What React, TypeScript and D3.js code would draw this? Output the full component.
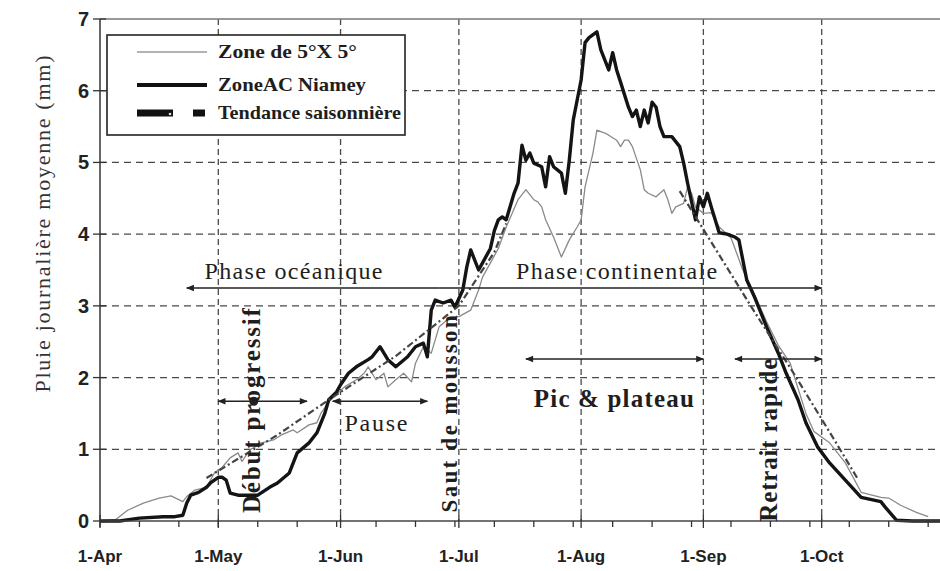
import * as d3 from 'd3';
import { useEffect, useRef } from 'react';

const WIDTH = 940;
const HEIGHT = 571;
const MARGIN = { top: 19, right: 0, bottom: 50, left: 100 };

// day 0 = 1 April
const START = Date.UTC(2001, 3, 1);
const LAST_DAY = 213;
const MINOR_STEP = 10;

const MONTH_LABELS = ['1-Apr', '1-May', '1-Jun', '1-Jul', '1-Aug', '1-Sep', '1-Oct'];
const Y_TICKS = [0, 1, 2, 3, 4, 5, 6, 7];

// [day since 1 April, mm/day]
const ZONE_5X5: [number, number][] = [
  [0, 0], [4, 0.02], [7, 0.15], [11, 0.25], [15, 0.32], [18, 0.35], [21, 0.27], [22, 0.34],
  [24, 0.43], [27, 0.47], [29, 0.67], [31, 0.75], [33, 0.88], [35, 0.95], [36, 0.83], [38, 0.99],
  [41, 1.09], [44, 1.13], [46, 1.2], [49, 1.27], [50, 1.23], [53, 1.34], [55, 1.37], [56, 1.5],
  [58, 1.66], [62, 1.87], [65, 1.97], [67, 2.06], [68, 2.15], [70, 1.97], [72, 2.06], [73, 1.87],
  [75, 1.97], [77, 2.06], [79, 1.94], [80, 2.2], [82, 2.43], [84, 2.34], [86, 2.71], [89, 2.85],
  [91, 2.85], [94, 2.94], [96, 3.22], [97, 3.4], [99, 3.6], [101, 3.8], [103, 4.1], [106, 4.48],
  [108, 4.62], [110, 4.48], [111, 4.45], [112, 4.38], [113, 4.2], [115, 3.96], [117, 3.68],
  [119, 3.92], [121, 4.1], [122, 4.2], [123, 4.66], [125, 5.13], [126, 5.45], [128, 5.41],
  [129, 5.38], [131, 5.31], [132, 5.22], [133, 5.31], [134, 5.31], [135, 5.22], [137, 4.9],
  [138, 4.62], [139, 4.57], [141, 4.52], [143, 4.62], [144, 4.48], [145, 4.29], [146, 4.38],
  [148, 4.43], [149, 4.66], [150, 4.57], [151, 4.38], [153, 4.29], [155, 4.3], [157, 4.1],
  [160, 3.95], [163, 3.5], [166, 3.15], [169, 2.78], [172, 2.45], [175, 2.2], [177, 1.85],
  [179, 1.5], [181, 1.25], [185, 1.09], [189, 0.81], [193, 0.4], [198, 0.33], [200, 0.32],
  [203, 0.22], [207, 0.12], [210, 0.06],
];

const ZONE_AC_NIAMEY: [number, number][] = [
  [0, 0], [5, 0], [10, 0.04], [16, 0.06], [19, 0.06], [21, 0.08], [22, 0.25], [23, 0.36],
  [25, 0.4], [27, 0.47], [28, 0.53], [30, 0.61], [31, 0.61], [32, 0.57], [33, 0.39], [35, 0.36],
  [40, 0.36], [43, 0.47], [45, 0.53], [48, 0.67], [50, 0.95], [53, 1.09], [55, 1.23], [57, 1.5],
  [58, 1.69], [60, 1.8], [61, 1.9], [63, 2.06], [65, 2.15], [68, 2.25], [69, 2.29], [71, 2.43],
  [73, 2.25], [75, 2.15], [78, 2.29], [80, 2.43], [82, 2.48], [83, 2.29], [84, 2.94], [85, 3.08],
  [87, 3.04], [89, 3.08], [90, 2.98], [92, 3.22], [93, 3.54], [94, 3.78], [96, 3.5], [97, 3.6],
  [99, 3.8], [100, 4.05], [101, 4.2], [102, 4.24], [103, 4.2], [105, 4.57], [106, 4.71],
  [107, 5.24], [108, 5.03], [109, 5.13], [110, 4.99], [112, 4.94], [113, 4.66], [114, 5.08],
  [115, 4.94], [117, 4.85], [118, 4.57], [119, 5.03], [120, 5.59], [121, 5.87], [122, 6.15],
  [123, 6.67], [124, 6.74], [126, 6.82], [127, 6.57], [128, 6.43], [129, 6.29], [130, 6.53],
  [131, 6.29], [132, 6.12], [134, 5.77], [135, 5.64], [136, 5.73], [137, 5.5], [138, 5.73],
  [139, 5.55], [140, 5.84], [141, 5.77], [142, 5.5], [143, 5.36], [145, 5.36], [147, 5.22],
  [148, 4.99], [149, 4.71], [151, 4.2], [152, 4.52], [153, 4.38], [154, 4.57], [155, 4.38],
  [156, 4.2], [157, 4.02], [159, 4.0], [161, 3.96], [162, 3.92], [164, 3.36], [166, 3.12],
  [169, 2.71], [172, 2.34], [174, 2.06], [177, 1.69], [179, 1.37], [182, 1.03], [185, 0.81],
  [189, 0.57], [193, 0.33], [198, 0.27], [199, 0.2], [202, 0.01], [206, 0], [213, 0],
];

const TREND_ONSET: [number, number][] = [
  [27, 0.6], [30, 0.7], [45, 1.2], [58, 1.69], [75, 2.3], [91, 3.0], [100, 3.75], [103, 4.15],
];
const TREND_RETREAT: [number, number][] = [
  [147, 4.6], [165, 3.0], [176, 2.05], [186, 1.15], [192, 0.6],
];

// arrows: from/to in days, level in mm
const ARROWS = [
  { from: 86, to: 22, level: 3.25, head: 'end' },
  { from: 86, to: 183, level: 3.25, head: 'end' },
  { from: 30, to: 52.5, level: 1.67, head: 'both' },
  { from: 59, to: 83, level: 1.67, head: 'both' },
  { from: 108, to: 153, level: 2.26, head: 'both' },
  { from: 161, to: 183, level: 2.26, head: 'both' },
];

const FLAT_LABELS = [
  { text: 'Phase océanique', day: 26.5, level: 3.25, dy: -9, len: 178, size: 24, bold: false },
  { text: 'Phase continentale', day: 105.5, level: 3.25, dy: -9, len: 201, size: 24, bold: false },
  { text: 'Pause', day: 62, level: 1.67, dy: 30, len: 63, size: 24, bold: false },
  { text: 'Pic & plateau', day: 110, level: 2.26, dy: 48, len: 160, size: 25, bold: true },
];

const VERTICAL_LABELS = [
  { text: 'Début progressif', day: 40.6, level: 0.11, len: 205, size: 25 },
  { text: 'Saut de mousson', day: 90.5, level: 0.12, len: 197, size: 23 },
  { text: 'Retrait rapide', day: 171.6, level: -0.01, len: 163, size: 25 },
];

const LEGEND_ITEMS = ['Zone de 5°X 5°', 'ZoneAC Niamey', 'Tendance saisonnière'];
const LEGEND_LENGTHS = [139, 148, 183];

const dayDate = (d: number) => new Date(START + d * 864e5);

const SERIF = '"Liberation Serif", "Times New Roman", Times, serif';

export default function App() {
  const ref = useRef<SVGSVGElement>(null);

  useEffect(() => {
    const svgEl = ref.current;
    if (!svgEl) return;
    const svg = d3.select(svgEl);
    svg.selectAll('*').remove();

    const x = d3
      .scaleUtc()
      .domain([dayDate(0), dayDate(LAST_DAY)])
      .range([MARGIN.left, WIDTH - MARGIN.right]);
    const y = d3
      .scaleLinear()
      .domain([0, 7])
      .range([HEIGHT - MARGIN.bottom, MARGIN.top]);

    const x0 = x.range()[0];
    const x1 = x.range()[1];
    const y0 = y(0);
    const yTop = y(7);

    const defs = svg.append('defs');
    defs
      .append('marker')
      .attr('id', 'arrow')
      .attr('viewBox', '0 -5 10 10')
      .attr('refX', 9)
      .attr('refY', 0)
      .attr('markerWidth', 10)
      .attr('markerHeight', 8)
      .attr('markerUnits', 'userSpaceOnUse')
      .attr('orient', 'auto-start-reverse')
      .append('path')
      .attr('d', 'M0,-4L10,0L0,4Z')
      .attr('fill', '#222');

    const months = d3.utcMonth.range(dayDate(0), dayDate(LAST_DAY + 1));

    // grid
    const grid = svg.append('g').attr('stroke', '#4a4a4a').attr('stroke-width', 1.3);
    grid
      .selectAll('line.h')
      .data(Y_TICKS.filter((v) => v > 0 && v < 7))
      .join('line')
      .attr('x1', x0)
      .attr('x2', x1)
      .attr('y1', (d) => y(d))
      .attr('y2', (d) => y(d))
      .attr('stroke-dasharray', '7 5');
    grid
      .selectAll('line.v')
      .data(months.slice(1))
      .join('line')
      .attr('x1', (d) => x(d))
      .attr('x2', (d) => x(d))
      .attr('y1', yTop)
      .attr('y2', y0)
      .attr('stroke-dasharray', '6 4');

    // frame
    svg
      .append('line')
      .attr('x1', x0)
      .attr('x2', x1)
      .attr('y1', yTop)
      .attr('y2', yTop)
      .attr('stroke', '#777')
      .attr('stroke-width', 1.5);

    // series
    const line = d3
      .line<[number, number]>()
      .x((d) => x(dayDate(d[0])))
      .y((d) => y(d[1]));

    svg
      .append('path')
      .datum(ZONE_5X5)
      .attr('d', line)
      .attr('fill', 'none')
      .attr('stroke', '#8a8a8a')
      .attr('stroke-width', 1.3)
      .attr('stroke-linejoin', 'round');

    svg
      .append('path')
      .datum(ZONE_AC_NIAMEY)
      .attr('d', line)
      .attr('fill', 'none')
      .attr('stroke', '#141414')
      .attr('stroke-width', 3.4)
      .attr('stroke-linejoin', 'round');

    for (const trend of [TREND_ONSET, TREND_RETREAT]) {
      svg
        .append('path')
        .datum(trend)
        .attr('d', line)
        .attr('fill', 'none')
        .attr('stroke', '#444')
        .attr('stroke-width', 2.2)
        .attr('stroke-dasharray', '7 3 2 3');
    }

    // axes
    svg
      .append('line')
      .attr('x1', x0)
      .attr('x2', x0)
      .attr('y1', yTop)
      .attr('y2', y0)
      .attr('stroke', '#333')
      .attr('stroke-width', 1.5);
    svg
      .append('line')
      .attr('x1', x0)
      .attr('x2', x1)
      .attr('y1', y0)
      .attr('y2', y0)
      .attr('stroke', '#444')
      .attr('stroke-width', 1.5);

    const ticks = svg.append('g').attr('stroke', '#333').attr('stroke-width', 1.3);
    ticks
      .selectAll('line.y')
      .data(Y_TICKS)
      .join('line')
      .attr('x1', x0 - 7)
      .attr('x2', x0 + 6)
      .attr('y1', (d) => y(d))
      .attr('y2', (d) => y(d));
    ticks
      .selectAll('line.minor')
      .data(d3.range(0, LAST_DAY + 1, MINOR_STEP))
      .join('line')
      .attr('x1', (d) => x(dayDate(d)))
      .attr('x2', (d) => x(dayDate(d)))
      .attr('y1', y0)
      .attr('y2', y0 + 6);
    ticks
      .selectAll('line.major')
      .data(months)
      .join('line')
      .attr('x1', (d) => x(d))
      .attr('x2', (d) => x(d))
      .attr('y1', y0 - 6)
      .attr('y2', y0 + 7);

    svg
      .append('g')
      .selectAll('text')
      .data(Y_TICKS)
      .join('text')
      .attr('x', x0 - 11)
      .attr('y', (d) => y(d) + 7)
      .attr('text-anchor', 'end')
      .style('font', 'bold 20px "Liberation Sans", Arial, sans-serif')
      .attr('fill', '#222')
      .text((d) => d);

    svg
      .append('g')
      .selectAll('text')
      .data(months)
      .join('text')
      .attr('x', (d) => x(d))
      .attr('y', y0 + 41)
      .attr('text-anchor', 'middle')
      .style('font', 'bold 17px "Liberation Sans", Arial, sans-serif')
      .attr('fill', '#222')
      .text((_d, i) => MONTH_LABELS[i]);

    svg
      .append('text')
      .attr('transform', `translate(50,${(yTop + y0) / 2 - 46}) rotate(-90)`)
      .attr('text-anchor', 'middle')
      .attr('textLength', 337)
      .attr('lengthAdjust', 'spacing')
      .style('font-family', SERIF)
      .style('font-size', '22px')
      .attr('fill', '#333')
      .text('Pluie journalière moyenne (mm)');

    // annotation arrows
    const arrows = svg.append('g').attr('stroke', '#222').attr('stroke-width', 1.6);
    arrows
      .selectAll('line')
      .data(ARROWS)
      .join('line')
      .attr('x1', (d) => x(dayDate(d.from)))
      .attr('x2', (d) => x(dayDate(d.to)))
      .attr('y1', (d) => y(d.level))
      .attr('y2', (d) => y(d.level))
      .attr('marker-end', 'url(#arrow)')
      .attr('marker-start', (d) => (d.head === 'both' ? 'url(#arrow)' : null));
    svg
      .append('circle')
      .attr('cx', x(dayDate(39)))
      .attr('cy', y(1.67))
      .attr('r', 4.5)
      .attr('fill', '#222');

    svg
      .append('g')
      .selectAll('text')
      .data(FLAT_LABELS)
      .join('text')
      .attr('x', (d) => x(dayDate(d.day)))
      .attr('y', (d) => y(d.level) + d.dy)
      .attr('textLength', (d) => d.len)
      .attr('lengthAdjust', 'spacing')
      .style('font-family', SERIF)
      .style('font-size', (d) => `${d.size}px`)
      .style('font-weight', (d) => (d.bold ? 'bold' : 'normal'))
      .attr('fill', '#1e1e1e')
      .text((d) => d.text);

    svg
      .append('g')
      .selectAll('text')
      .data(VERTICAL_LABELS)
      .join('text')
      .attr('transform', (d) => `translate(${x(dayDate(d.day))},${y(d.level)}) rotate(-90)`)
      .attr('textLength', (d) => d.len)
      .attr('lengthAdjust', 'spacing')
      .style('font-family', SERIF)
      .style('font-size', (d) => `${d.size}px`)
      .style('font-weight', 'bold')
      .attr('fill', '#1e1e1e')
      .text((d) => d.text);

    // legend
    const legend = svg.append('g').attr('transform', 'translate(107,35)');
    legend
      .append('rect')
      .attr('width', 298)
      .attr('height', 100)
      .attr('fill', '#fff')
      .attr('stroke', '#222')
      .attr('stroke-width', 1.6);
    const rowY = [17, 50, 78];
    legend
      .append('line')
      .attr('x1', 30)
      .attr('x2', 100)
      .attr('y1', rowY[0])
      .attr('y2', rowY[0])
      .attr('stroke', '#666')
      .attr('stroke-width', 1.2);
    legend
      .append('line')
      .attr('x1', 30)
      .attr('x2', 100)
      .attr('y1', rowY[1])
      .attr('y2', rowY[1])
      .attr('stroke', '#111')
      .attr('stroke-width', 4);
    legend
      .append('line')
      .attr('x1', 30)
      .attr('x2', 100)
      .attr('y1', rowY[2])
      .attr('y2', rowY[2])
      .attr('stroke', '#111')
      .attr('stroke-width', 7)
      .attr('stroke-dasharray', '36 20 12 20');
    legend
      .append('circle')
      .attr('cx', 63)
      .attr('cy', rowY[2] + 1)
      .attr('r', 1.3)
      .attr('fill', '#ddd');
    legend
      .selectAll('text')
      .data(LEGEND_ITEMS)
      .join('text')
      .attr('x', 111)
      .attr('y', (_d, i) => rowY[i] + 6)
      .attr('textLength', (_d, i) => LEGEND_LENGTHS[i])
      .attr('lengthAdjust', 'spacingAndGlyphs')
      .style('font-family', SERIF)
      .style('font-size', '19px')
      .style('font-weight', 'bold')
      .attr('fill', '#1e1e1e')
      .text((d) => d);
  }, []);

  return (
    <svg
      ref={ref}
      width={WIDTH}
      height={HEIGHT}
      style={{ position: 'absolute', left: 0, top: 0, background: '#fff' }}
    />
  );
}
